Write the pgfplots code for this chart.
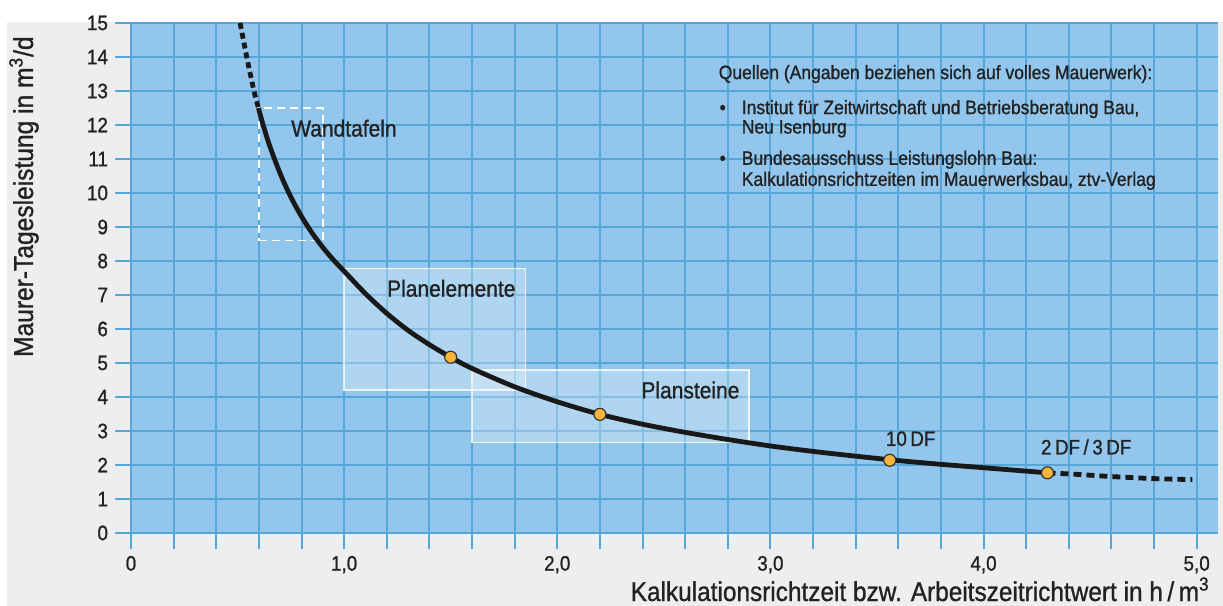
\documentclass[border=0pt]{standalone}
\usepackage{fontspec}
\setmainfont{Liberation Sans}[FakeStretch=0.9, FakeBold=1]
\usepackage{pgfplots}
\pgfplotsset{compat=1.18}

\definecolor{panel}{RGB}{237,238,240}
\definecolor{plotblue}{RGB}{146,198,236}
\definecolor{gridblue}{RGB}{88,165,216}
\definecolor{dotfill}{RGB}{250,180,60}
\definecolor{txt}{RGB}{34,34,34}

\begin{document}
\begin{tikzpicture}
\path[use as bounding box] (-65.5bp,-36.5bp) rectangle (546bp,266.5bp);
\fill[panel] (-62bp,-36.5bp) rectangle (546bp,255.5bp);
\begin{axis}[
  at={(0,0)}, anchor=south west,
  width=543.5bp, height=255bp, scale only axis,
  xmin=0, xmax=5.1, ymin=0, ymax=15,
  axis background/.style={fill=plotblue},
  axis line style={draw=none},
  xtick={0,1,2,3,4,5},
  xticklabels={\mbox{0},\mbox{1,0},\mbox{2,0},\mbox{3,0},\mbox{4,0},\mbox{5,0}},
  minor x tick num=4,
  ytick={0,1,...,15},
  /pgf/number format/assume math mode=true,
  tick pos=left, tick align=outside,
  major tick length=8bp, minor tick length=8bp,
  tick style={gridblue, line width=1bp},
  xmajorgrids=true, xminorgrids=true, ymajorgrids=true,
  grid style={gridblue, line width=1bp},
  minor grid style={gridblue, line width=1bp},
  ticklabel style={font=\fontsize{10.5}{12}\selectfont, text=txt},
]

% boxes
\addplot[draw=white, line width=0.9bp, dash pattern=on 4bp off 2.5bp]
  coordinates {(0.6,8.6) (0.9,8.6) (0.9,12.5) (0.6,12.5)} -- cycle;
\addplot[fill=white, fill opacity=0.28, draw=white, draw opacity=0.8, line width=0.8bp]
  coordinates {(1.0,4.2) (1.85,4.2) (1.85,7.78) (1.0,7.78)} -- cycle;
\addplot[fill=white, fill opacity=0.28, draw=white, draw opacity=0.8, line width=0.8bp]
  coordinates {(1.6,2.66) (2.9,2.66) (2.9,4.8) (1.6,4.8)} -- cycle;

% curve
\addplot[black!90, line width=2.4bp, smooth, dash pattern=on 3bp off 2bp]
  coordinates {(0.512,15) (0.543,14) (0.577,13) (0.598,12.5)};
\addplot[black!90, line width=2.4bp, smooth]
  coordinates {(0.598,12.5) (0.62,12.0) (0.65,11.4) (0.70,10.57) (0.75,9.88)
    (0.80,9.31) (0.85,8.82) (0.90,8.40) (0.95,8.03) (1.0,7.70) (1.1,7.04)
    (1.2,6.46) (1.3,5.96) (1.4,5.54) (1.5,5.17) (1.6,4.84) (1.8,4.30)
    (2.0,3.86) (2.2,3.49) (2.4,3.20) (2.6,2.96) (2.8,2.75) (3.0,2.56)
    (3.2,2.40) (3.4,2.26) (3.6,2.13) (3.8,2.02) (4.0,1.92) (4.2,1.82)
    (4.3,1.77)};
\addplot[black!90, line width=2.4bp, smooth, dash pattern=on 4bp off 2.5bp]
  coordinates {(4.30,1.77) (4.45,1.72) (4.6,1.66) (4.8,1.60) (4.98,1.57)};

% points
\addplot[only marks, mark=*, mark size=3bp,
  mark options={fill=dotfill, draw=black!80, line width=0.6bp}]
  coordinates {(1.5,5.17) (2.2,3.49) (3.56,2.14) (4.3,1.77)};

% annotations
\begin{scope}[every node/.style={anchor=base west, inner sep=0pt, text=txt}]
\node[font=\fontsize{11.7}{14}\selectfont] at (axis cs:0.75,11.66) {Wandtafeln};
\node[font=\fontsize{11.7}{14}\selectfont] at (axis cs:1.20,6.95) {Planelemente};
\node[font=\fontsize{11.7}{14}\selectfont] at (axis cs:2.393,3.96) {Plansteine};
\node[font=\fontsize{10.5}{12}\selectfont] at (axis cs:3.54,2.56) {10\,DF};
\node[font=\fontsize{10.5}{12}\selectfont] at (axis cs:4.268,2.31) {2\,DF\,/\,3\,DF};
\node[font=\fontsize{9.75}{12}\selectfont] at (axis cs:2.756,13.35) {Quellen (Angaben beziehen sich auf volles Mauerwerk):};
\node[font=\fontsize{9.75}{12}\selectfont] at (axis cs:2.76,12.32) {\textbullet};
\node[font=\fontsize{9.75}{12}\selectfont] at (axis cs:2.864,12.32) {Institut für Zeitwirtschaft und Betriebsberatung Bau,};
\node[font=\fontsize{9.75}{12}\selectfont] at (axis cs:2.864,11.75) {Neu Isenburg};
\node[font=\fontsize{9.75}{12}\selectfont] at (axis cs:2.76,10.83) {\textbullet};
\node[font=\fontsize{9.75}{12}\selectfont] at (axis cs:2.864,10.83) {Bundesausschuss Leistungslohn Bau:};
\node[font=\fontsize{9.75}{12}\selectfont] at (axis cs:2.864,10.21) {Kalkulationsrichtzeiten im Mauerwerksbau, ztv-Verlag};
\end{scope}
\end{axis}

\node[rotate=90, anchor=base east, inner sep=0pt, text=txt, font=\fontsize{13.7}{16}\selectfont]
  at (-49bp,248.5bp) {Maurer-Tagesleistung in m\textsuperscript{3}/d};
\node[anchor=base east, inner sep=0pt, text=txt, font=\fontsize{13.6}{16}\selectfont]
  at (539.5bp,-34bp) {Kalkulationsrichtzeit bzw. Arbeitszeitrichtwert in h\,/\,m\textsuperscript{3}};
\end{tikzpicture}
\end{document}
